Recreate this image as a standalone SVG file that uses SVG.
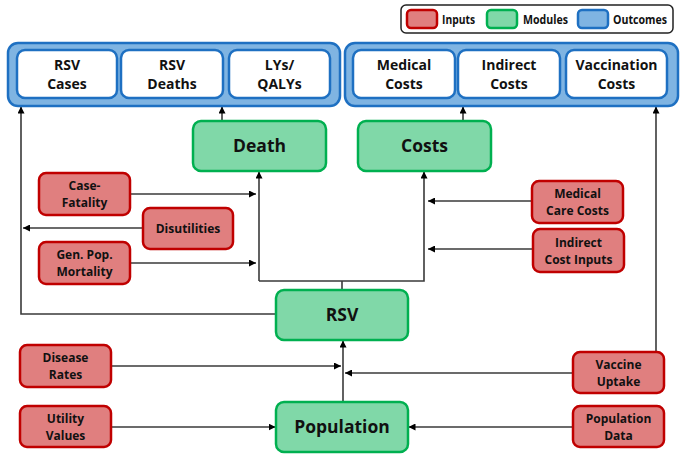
<svg xmlns="http://www.w3.org/2000/svg" width="685" height="461" viewBox="0 0 685 461">
<style>
text{font-family:"Open Sans","Liberation Sans",sans-serif;font-weight:bold;fill:#111;text-anchor:middle}
.in{fill:#e07f7f;stroke:#c00000;stroke-width:2.5}
.mod{fill:#80d8a8;stroke:#00b050;stroke-width:2.5}
.outg{fill:#7fb4e2;stroke:#1e70c2;stroke-width:2.5}
.outb{fill:#fff;stroke:#1e70c2;stroke-width:2.5}
.t{font-size:12px}
.to{font-size:14px}
.tm{font-size:17.5px}
.tl{font-size:12px;text-anchor:start}
.c{fill:none;stroke:#3a3a3a;stroke-width:1.6}
</style>
<defs>
<marker id="ah" viewBox="0 0 10 10" refX="10" refY="5" markerWidth="7" markerHeight="7" markerUnits="userSpaceOnUse" orient="auto">
<path d="M0,0 L10,5 L0,10 z" fill="#000"/>
</marker>
</defs>
<rect width="685" height="461" fill="#fff"/>
<g id="legend">
<rect x="401" y="5" width="272" height="28" rx="5" fill="#fff" stroke="#222" stroke-width="1.5"/>
<rect x="407" y="10" width="30" height="18" rx="4" class="in"/>
<text x="442" y="23.5" class="tl" textLength="33" lengthAdjust="spacingAndGlyphs">Inputs</text>
<rect x="487" y="10" width="30" height="18" rx="4" class="mod"/>
<text x="523" y="23.5" class="tl" textLength="45" lengthAdjust="spacingAndGlyphs">Modules</text>
<rect x="578" y="10" width="30" height="18" rx="4" class="outg"/>
<text x="613" y="23.5" class="tl" textLength="54" lengthAdjust="spacingAndGlyphs">Outcomes</text>
</g>
<g id="connectors">
<path class="c" d="M222,121 V106.5" marker-end="url(#ah)"/>
<path class="c" d="M463,121 V106.5" marker-end="url(#ah)"/>
<path class="c" d="M130,194 H256" marker-end="url(#ah)"/>
<path class="c" d="M143,228 H23" marker-end="url(#ah)"/>
<path class="c" d="M130,263 H256" marker-end="url(#ah)"/>
<path class="c" d="M259,281 V171.5" marker-end="url(#ah)"/>
<path class="c" d="M259,281 H424 V171.5" marker-end="url(#ah)"/>
<path class="c" d="M342,296 V281"/>
<path class="c" d="M532,201 H428" marker-end="url(#ah)"/>
<path class="c" d="M533,249 H428" marker-end="url(#ah)"/>
<path class="c" d="M276,314 H21 V106.5" marker-end="url(#ah)"/>
<path class="c" d="M656,352 V106.5" marker-end="url(#ah)"/>
<path class="c" d="M111,366 H341" marker-end="url(#ah)"/>
<path class="c" d="M573,373 H345" marker-end="url(#ah)"/>
<path class="c" d="M343,402 V340.5" marker-end="url(#ah)"/>
<path class="c" d="M111,427 H275.5" marker-end="url(#ah)"/>
<path class="c" d="M573,427 H408.5" marker-end="url(#ah)"/>
</g>
<g id="outcomes-health">
<rect x="8" y="43" width="332" height="63" rx="10" class="outg"/>
</g>
<g id="rsv-cases"><rect x="17" y="50" width="100" height="48" rx="8" class="outb"/><text x="67" y="70" class="to">RSV</text><text x="67" y="89" class="to">Cases</text></g>
<g id="rsv-deaths"><rect x="121" y="50" width="102" height="48" rx="8" class="outb"/><text x="172" y="70" class="to">RSV</text><text x="172" y="89" class="to">Deaths</text></g>
<g id="lys-qalys"><rect x="229" y="50" width="101" height="48" rx="8" class="outb"/><text x="279.5" y="70" class="to">LYs/</text><text x="279.5" y="89" class="to">QALYs</text></g>
<g id="outcomes-costs">
<rect x="345" y="43" width="333" height="63" rx="10" class="outg"/>
</g>
<g id="medical-costs"><rect x="353" y="50" width="102" height="48" rx="8" class="outb"/><text x="404" y="70" class="to">Medical</text><text x="404" y="89" class="to">Costs</text></g>
<g id="indirect-costs"><rect x="458" y="50" width="102" height="48" rx="8" class="outb"/><text x="509" y="70" class="to">Indirect</text><text x="509" y="89" class="to">Costs</text></g>
<g id="vaccination-costs"><rect x="566" y="50" width="101" height="48" rx="8" class="outb"/><text x="616.5" y="70" class="to">Vaccination</text><text x="616.5" y="89" class="to">Costs</text></g>
<g id="death"><rect x="193" y="121" width="133" height="50" rx="8" class="mod"/><text x="259.5" y="152" class="tm">Death</text></g>
<g id="costs"><rect x="358" y="121" width="133" height="50" rx="8" class="mod"/><text x="424.5" y="152" class="tm">Costs</text></g>
<g id="case-fatality"><rect x="39" y="173" width="91" height="42" rx="7" class="in"/><text x="84.5" y="190" class="t">Case-</text><text x="84.5" y="207" class="t">Fatality</text></g>
<g id="disutilities"><rect x="143" y="208" width="90" height="41" rx="7" class="in"/><text x="188" y="233" class="t">Disutilities</text></g>
<g id="gen-pop-mortality"><rect x="39" y="242" width="91" height="42" rx="7" class="in"/><text x="84.5" y="259" class="t">Gen. Pop.</text><text x="84.5" y="276" class="t">Mortality</text></g>
<g id="medical-care-costs"><rect x="532" y="181" width="91" height="42" rx="7" class="in"/><text x="577.5" y="198" class="t">Medical</text><text x="577.5" y="215" class="t">Care Costs</text></g>
<g id="indirect-cost-inputs"><rect x="533" y="229" width="91" height="43" rx="7" class="in"/><text x="578.5" y="247" class="t">Indirect</text><text x="578.5" y="264" class="t">Cost Inputs</text></g>
<g id="rsv"><rect x="276" y="290" width="132" height="50" rx="8" class="mod"/><text x="342" y="321" class="tm">RSV</text></g>
<g id="disease-rates"><rect x="20" y="345" width="91" height="42" rx="7" class="in"/><text x="65.5" y="362" class="t">Disease</text><text x="65.5" y="379" class="t">Rates</text></g>
<g id="vaccine-uptake"><rect x="573" y="352" width="91" height="41" rx="7" class="in"/><text x="618.5" y="369" class="t">Vaccine</text><text x="618.5" y="386" class="t">Uptake</text></g>
<g id="utility-values"><rect x="20" y="406" width="91" height="41" rx="7" class="in"/><text x="65.5" y="423" class="t">Utility</text><text x="65.5" y="440" class="t">Values</text></g>
<g id="population"><rect x="276" y="402" width="132" height="50" rx="8" class="mod"/><text x="342" y="433" class="tm">Population</text></g>
<g id="population-data"><rect x="573" y="406" width="91" height="41" rx="7" class="in"/><text x="618.5" y="423" class="t">Population</text><text x="618.5" y="440" class="t">Data</text></g>
</svg>
